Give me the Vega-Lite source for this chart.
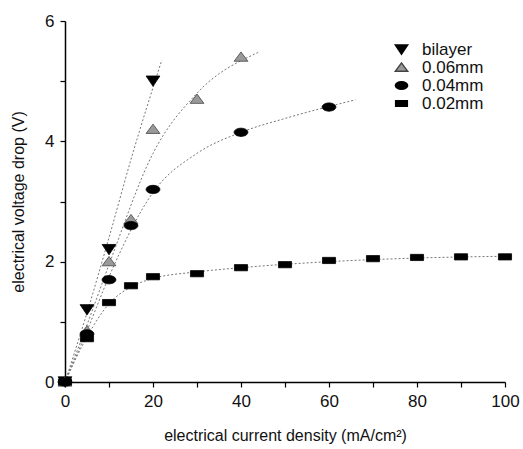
{
  "$schema": "https://vega.github.io/schema/vega-lite/v6.json",
  "width": 440,
  "height": 361,
  "autosize": {"type": "none"},
  "padding": {"left": 65, "top": 21, "right": 18, "bottom": 67},
  "background": "white",
  "config": {
    "view": {"stroke": null},
    "font": "Liberation Sans"
  },
  "datasets": {
    "pts": [
      {"series": "bilayer", "x": 0, "y": 0},
      {"series": "bilayer", "x": 5, "y": 1.2},
      {"series": "bilayer", "x": 10, "y": 2.2},
      {"series": "bilayer", "x": 20, "y": 5.0},
      {"series": "0.06mm", "x": 0, "y": 0},
      {"series": "0.06mm", "x": 5, "y": 0.85},
      {"series": "0.06mm", "x": 10, "y": 2.0},
      {"series": "0.06mm", "x": 15, "y": 2.7},
      {"series": "0.06mm", "x": 20, "y": 4.2},
      {"series": "0.06mm", "x": 30, "y": 4.7},
      {"series": "0.06mm", "x": 40, "y": 5.4},
      {"series": "0.04mm", "x": 0, "y": 0},
      {"series": "0.04mm", "x": 5, "y": 0.8},
      {"series": "0.04mm", "x": 10, "y": 1.7},
      {"series": "0.04mm", "x": 15, "y": 2.6},
      {"series": "0.04mm", "x": 20, "y": 3.2},
      {"series": "0.04mm", "x": 40, "y": 4.15},
      {"series": "0.04mm", "x": 60, "y": 4.57},
      {"series": "0.02mm", "x": 0, "y": 0},
      {"series": "0.02mm", "x": 5, "y": 0.72},
      {"series": "0.02mm", "x": 10, "y": 1.32},
      {"series": "0.02mm", "x": 15, "y": 1.6},
      {"series": "0.02mm", "x": 20, "y": 1.75},
      {"series": "0.02mm", "x": 30, "y": 1.8},
      {"series": "0.02mm", "x": 40, "y": 1.9},
      {"series": "0.02mm", "x": 50, "y": 1.95},
      {"series": "0.02mm", "x": 60, "y": 2.02},
      {"series": "0.02mm", "x": 70, "y": 2.05},
      {"series": "0.02mm", "x": 80, "y": 2.07},
      {"series": "0.02mm", "x": 90, "y": 2.08},
      {"series": "0.02mm", "x": 100, "y": 2.08}
    ],
    "fit": [
      {"series": "bilayer", "x": 0, "y": 0},
      {"series": "bilayer", "x": 5, "y": 1.15},
      {"series": "bilayer", "x": 10, "y": 2.4},
      {"series": "bilayer", "x": 15, "y": 3.7},
      {"series": "bilayer", "x": 22, "y": 5.35},
      {"series": "0.06mm", "x": 0, "y": 0},
      {"series": "0.06mm", "x": 5, "y": 0.95},
      {"series": "0.06mm", "x": 10, "y": 1.95},
      {"series": "0.06mm", "x": 20, "y": 3.8},
      {"series": "0.06mm", "x": 30, "y": 4.8},
      {"series": "0.06mm", "x": 44, "y": 5.48},
      {"series": "0.04mm", "x": 0, "y": 0},
      {"series": "0.04mm", "x": 5, "y": 0.85},
      {"series": "0.04mm", "x": 10, "y": 1.75},
      {"series": "0.04mm", "x": 20, "y": 3.15},
      {"series": "0.04mm", "x": 30, "y": 3.8},
      {"series": "0.04mm", "x": 40, "y": 4.15},
      {"series": "0.04mm", "x": 50, "y": 4.38},
      {"series": "0.04mm", "x": 66, "y": 4.69},
      {"series": "0.02mm", "x": 0, "y": 0},
      {"series": "0.02mm", "x": 5, "y": 0.75},
      {"series": "0.02mm", "x": 10, "y": 1.3},
      {"series": "0.02mm", "x": 15, "y": 1.58},
      {"series": "0.02mm", "x": 20, "y": 1.72},
      {"series": "0.02mm", "x": 30, "y": 1.83},
      {"series": "0.02mm", "x": 40, "y": 1.9},
      {"series": "0.02mm", "x": 60, "y": 2.0},
      {"series": "0.02mm", "x": 80, "y": 2.06},
      {"series": "0.02mm", "x": 100, "y": 2.09}
    ]
  },
  "encoding": {
    "x": {
      "field": "x", "type": "quantitative",
      "scale": {"domain": [0, 100], "nice": false, "zero": false},
      "axis": {
        "title": "electrical current density (mA/cm²)",
        "values": [0, 10, 20, 30, 40, 50, 60, 70, 80, 90, 100],
        "labelExpr": "datum.value % 20 == 0 ? datum.label : ''",
        "grid": false, "domainColor": "black", "domainWidth": 1.5,
        "tickColor": "black", "tickSize": 5, "tickWidth": 1.2,
        "labelFontSize": 17, "labelColor": "#111", "labelPadding": 6,
        "titleFontSize": 16, "titleFontWeight": "normal", "titleColor": "#111",
        "titlePadding": 18, "labelFlush": false
      }
    },
    "y": {
      "field": "y", "type": "quantitative",
      "scale": {"domain": [0, 6], "nice": false, "zero": false},
      "axis": {
        "title": "electrical voltage drop (V)",
        "values": [0, 1, 2, 3, 4, 5, 6],
        "labelExpr": "datum.value % 2 == 0 ? datum.label : ''",
        "grid": false, "domainColor": "black", "domainWidth": 1.5,
        "tickColor": "black", "tickSize": 5, "tickWidth": 1.2,
        "labelFontSize": 17, "labelColor": "#111", "labelPadding": 6,
        "titleFontSize": 16, "titleFontWeight": "normal", "titleColor": "#111",
        "titlePadding": 18, "labelFlush": false
      }
    }
  },
  "layer": [
    {
      "data": {"name": "fit"},
      "mark": {"type": "line", "interpolate": "monotone", "color": "#777", "strokeWidth": 1, "strokeDash": [2, 2], "clip": false},
      "encoding": {
        "detail": {"field": "series"}
      }
    },
    {
      "data": {"name": "pts"},
      "mark": {"type": "point", "filled": true, "opacity": 1, "clip": false, "strokeWidth": 0.8},
      "encoding": {
        "shape": {
          "field": "series", "type": "nominal",
          "scale": {
            "domain": ["bilayer", "0.06mm", "0.04mm", "0.02mm"],
            "range": [
              "M -1 -0.75 L 1 -0.75 L 0 0.75 Z",
              "M -1 0.6 L 1 0.6 L 0 -0.75 Z",
              "M -1 0 A 1 0.6 0 1 0 1 0 A 1 0.6 0 1 0 -1 0 Z",
              "M -0.95 -0.45 L 0.95 -0.45 L 0.95 0.45 L -0.95 0.45 Z"
            ]
          },
          "legend": {
            "title": null, "orient": "none", "legendX": 328, "legendY": 20,
            "labelFontSize": 17, "labelColor": "#111", "symbolSize": 150,
            "rowPadding": 0, "labelOffset": 12
          }
        },
        "color": {
          "field": "series", "type": "nominal",
          "scale": {"domain": ["bilayer", "0.06mm", "0.04mm", "0.02mm"], "range": ["#000", "#999", "#000", "#000"]}
        },
        "stroke": {
          "field": "series", "type": "nominal",
          "scale": {"domain": ["bilayer", "0.06mm", "0.04mm", "0.02mm"], "range": ["#000", "#444", "#000", "#000"]}
        },
        "size": {"value": 190}
      }
    }
  ]
}
